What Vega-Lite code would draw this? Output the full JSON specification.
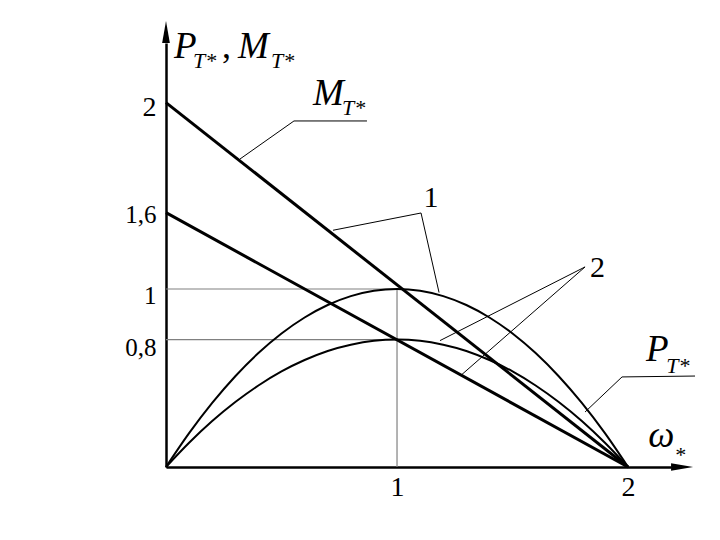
{
  "$schema": "https://vega.github.io/schema/vega-lite/v6.json",
  "autosize": {"type": "none"},
  "width": 505,
  "height": 424,
  "padding": {"left": 166, "top": 43, "right": 49, "bottom": 73},
  "background": "white",
  "config": {
    "view": {"stroke": null},
    "axis": {"labelFont": "Liberation Serif", "labelColor": "black", "domainColor": "black", "domainWidth": 2.5, "ticks": false, "grid": false, "title": null}
  },
  "datasets": {
    "curves": [
      {"x": 0, "y": 0, "c": "1"}, {"x": 0.1, "y": 0.19, "c": "1"}, {"x": 0.2, "y": 0.36, "c": "1"}, {"x": 0.3, "y": 0.51, "c": "1"}, {"x": 0.4, "y": 0.64, "c": "1"}, {"x": 0.5, "y": 0.75, "c": "1"}, {"x": 0.6, "y": 0.84, "c": "1"}, {"x": 0.7, "y": 0.91, "c": "1"}, {"x": 0.8, "y": 0.96, "c": "1"}, {"x": 0.9, "y": 0.99, "c": "1"}, {"x": 1.0, "y": 1.0, "c": "1"}, {"x": 1.1, "y": 0.99, "c": "1"}, {"x": 1.2, "y": 0.96, "c": "1"}, {"x": 1.3, "y": 0.91, "c": "1"}, {"x": 1.4, "y": 0.84, "c": "1"}, {"x": 1.5, "y": 0.75, "c": "1"}, {"x": 1.6, "y": 0.64, "c": "1"}, {"x": 1.7, "y": 0.51, "c": "1"}, {"x": 1.8, "y": 0.36, "c": "1"}, {"x": 1.9, "y": 0.19, "c": "1"}, {"x": 2.0, "y": 0, "c": "1"},
      {"x": 0, "y": 0, "c": "2"}, {"x": 0.1, "y": 0.136, "c": "2"}, {"x": 0.2, "y": 0.258, "c": "2"}, {"x": 0.3, "y": 0.365, "c": "2"}, {"x": 0.4, "y": 0.458, "c": "2"}, {"x": 0.5, "y": 0.537, "c": "2"}, {"x": 0.6, "y": 0.601, "c": "2"}, {"x": 0.7, "y": 0.652, "c": "2"}, {"x": 0.8, "y": 0.687, "c": "2"}, {"x": 0.9, "y": 0.709, "c": "2"}, {"x": 1.0, "y": 0.716, "c": "2"}, {"x": 1.1, "y": 0.709, "c": "2"}, {"x": 1.2, "y": 0.687, "c": "2"}, {"x": 1.3, "y": 0.652, "c": "2"}, {"x": 1.4, "y": 0.601, "c": "2"}, {"x": 1.5, "y": 0.537, "c": "2"}, {"x": 1.6, "y": 0.458, "c": "2"}, {"x": 1.7, "y": 0.365, "c": "2"}, {"x": 1.8, "y": 0.258, "c": "2"}, {"x": 1.9, "y": 0.136, "c": "2"}, {"x": 2.0, "y": 0, "c": "2"}
    ],
    "lines": [
      {"x": 0, "y": 2.047, "c": "1"}, {"x": 2, "y": 0, "c": "1"},
      {"x": 0, "y": 1.4287, "c": "2"}, {"x": 2, "y": 0, "c": "2"}
    ],
    "refs": [
      {"x": 0, "y": 1, "x2": 1, "y2": 1},
      {"x": 0, "y": 0.716, "x2": 1, "y2": 0.716},
      {"x": 1, "y": 0, "x2": 1, "y2": 1}
    ],
    "leaders": [
      {"g": "a", "o": 1, "x": 0.32, "y": 1.73}, {"g": "a", "o": 2, "x": 0.554, "y": 1.944}, {"g": "a", "o": 3, "x": 0.87, "y": 1.944},
      {"g": "b", "o": 1, "x": 0.723, "y": 1.33}, {"g": "b", "o": 2, "x": 1.104, "y": 1.427}, {"g": "b", "o": 3, "x": 1.182, "y": 0.98},
      {"g": "c", "o": 1, "x": 1.186, "y": 0.71}, {"g": "c", "o": 2, "x": 1.814, "y": 1.124}, {"g": "c", "o": 3, "x": 1.281, "y": 0.52},
      {"g": "d", "o": 1, "x": 1.814, "y": 0.309}, {"g": "d", "o": 2, "x": 1.974, "y": 0.506}, {"g": "d", "o": 3, "x": 2.29, "y": 0.511}
    ],
    "bigLabels": [
      {"x": 0.035, "y": 2.298, "t": "P"},
      {"x": 0.312, "y": 2.298, "t": "M"},
      {"x": 0.636, "y": 2.034, "t": "M"},
      {"x": 2.078, "y": 0.596, "t": "P"},
      {"x": 2.087, "y": 0.112, "t": "ω"}
    ],
    "subLabels": [
      {"x": 0.117, "y": 2.242, "t": "T*"},
      {"x": 0.455, "y": 2.242, "t": "T*"},
      {"x": 0.762, "y": 1.978, "t": "T*"},
      {"x": 2.165, "y": 0.528, "t": "T*"},
      {"x": 2.2, "y": 0.03, "t": "*"}
    ],
    "commas": [{"x": 0.242, "y": 2.298, "t": ","}],
    "numbers": [
      {"x": 1.147, "y": 1.461, "t": "1"},
      {"x": 1.868, "y": 1.067, "t": "2"}
    ],
    "arrowY": [{"x": 0, "y": 2.444}],
    "arrowX": [{"x": 2.234, "y": 0}]
  },
  "encoding": {
    "x": {"field": "x", "type": "quantitative", "scale": {"domain": [0, 2.186], "nice": false, "zero": false},
      "axis": {"values": [1, 2], "labelFontSize": 28, "labelPadding": 6, "labelFlush": false}},
    "y": {"field": "y", "type": "quantitative", "scale": {"domain": [0, 2.382], "nice": false, "zero": false},
      "axis": {"values": [2.02, 1.416, 0.961, 0.674], "labelPadding": 10, "labelBaseline": "middle", "labelFlush": false,
        "labelExpr": "datum.value > 1.8 ? '2' : datum.value > 1.2 ? '1,6' : datum.value > 0.8 ? '1' : '0,8'",
        "labelFontSize": {"condition": {"test": "datum.value > 1.8", "value": 28}, "value": 25}}}
  },
  "layer": [
    {"data": {"name": "refs"}, "mark": {"type": "rule", "color": "#808080", "strokeWidth": 1.2},
      "encoding": {"x2": {"field": "x2"}, "y2": {"field": "y2"}}},
    {"data": {"name": "curves"}, "mark": {"type": "line", "color": "black", "strokeWidth": 2, "interpolate": "monotone"},
      "encoding": {"detail": {"field": "c"}}},
    {"data": {"name": "lines"}, "mark": {"type": "line", "color": "black", "strokeWidth": 3},
      "encoding": {"detail": {"field": "c"}}},
    {"data": {"name": "leaders"}, "mark": {"type": "line", "color": "black", "strokeWidth": 1},
      "encoding": {"detail": {"field": "g"}, "order": {"field": "o"}}},
    {"data": {"name": "arrowY"}, "mark": {"type": "point", "filled": true, "color": "black", "opacity": 1, "size": 484, "shape": "M -0.35 1 L 0 -1 L 0.35 1 Z"}},
    {"data": {"name": "arrowX"}, "mark": {"type": "point", "filled": true, "color": "black", "opacity": 1, "size": 484, "shape": "M -1 -0.35 L 1 0 L -1 0.35 Z"}},
    {"data": {"name": "bigLabels"}, "mark": {"type": "text", "font": "Liberation Serif", "fontStyle": "italic", "fontSize": 37, "align": "left", "baseline": "alphabetic", "color": "black"},
      "encoding": {"text": {"field": "t"}}},
    {"data": {"name": "subLabels"}, "mark": {"type": "text", "font": "Liberation Serif", "fontStyle": "italic", "fontSize": 22, "align": "left", "baseline": "alphabetic", "color": "black"},
      "encoding": {"text": {"field": "t"}}},
    {"data": {"name": "commas"}, "mark": {"type": "text", "font": "Liberation Serif", "fontSize": 36, "align": "left", "baseline": "alphabetic", "color": "black"},
      "encoding": {"text": {"field": "t"}}},
    {"data": {"name": "numbers"}, "mark": {"type": "text", "font": "Liberation Serif", "fontSize": 30, "align": "center", "baseline": "alphabetic", "color": "black"},
      "encoding": {"text": {"field": "t"}}}
  ]
}
